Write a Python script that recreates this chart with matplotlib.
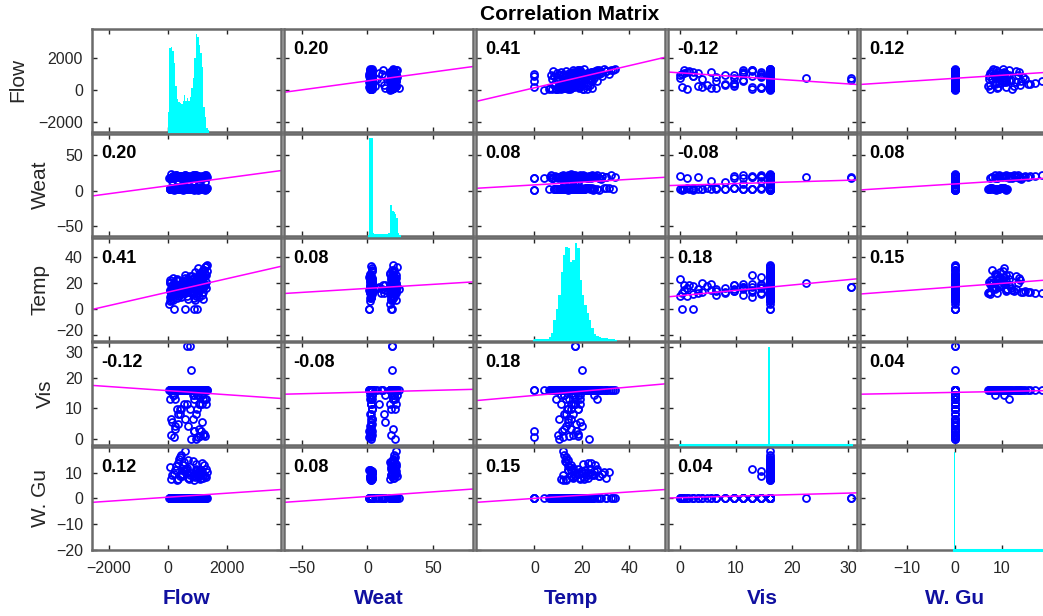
import numpy as np
import matplotlib.pyplot as plt
from matplotlib.transforms import ScaledTranslation

plt.rcParams['font.family'] = ['Liberation Sans', 'DejaVu Sans']

# variable names (rows / columns of the matrix)
names = ['Flow', 'Weat', 'Temp', 'Vis', 'W. Gu']

flow = [
    60, 110, 150, 90, 200, 250, 130, 70, 180, 280,
    900, 960, 1010, 1080, 1150, 1220, 1300, 980, 1040, 870,
    350, 420, 480, 550, 620, 700, 760, 300, 650, 520,
    880, 940, 1000, 1060, 1120, 1180, 1250, 1320, 990, 1100,
    950, 1020, 1100, 1180, 1240, 900, 1060, 230, 330, 1150,
    120, 400, 750, 1050, 1250, 200, 600, 950, 300, 1150,
    80, 160, 240, 1000, 1280, 700, 850, 1130, 450, 560,
    50, 100, 140, 190, 240, 290, 80, 170, 220, 120,
    860, 930, 1000, 1070, 1140, 1210, 1280, 1340, 960, 1110,
    150, 380, 450, 500, 620, 780, 900, 1050, 1200, 280,
    100, 230, 650, 720, 960, 1010, 1160, 1290, 850, 560,
    400, 600, 700, 800, 650, 760, 820, 1050, 350, 900,
    200, 580, 900, 1000, 300, 700, 1100, 500, 1250, 150,
    320, 380, 460, 540, 610, 680, 740, 800, 430, 520,
    110, 260, 420, 640, 880, 1030, 1190, 1300, 170, 990,
    60, 180, 310, 440, 570, 690, 820, 940, 1070, 1200,
    130, 260, 390, 530, 660, 790, 910, 1030, 1170, 1310,
    70, 200, 330, 470, 590, 730, 840, 970, 1090, 1230,
]
weat = [
    2.1, 3.0, 2.6, 3.4, 2.2, 3.8, 2.9, 3.1, 2.5, 3.6,
    2.4, 3.2, 2.8, 3.5, 2.0, 3.9, 2.7, 3.3, 1.5, 2.9,
    2.3, 3.1, 2.7, 3.6, 2.0, 3.4, 2.9, 2.5, 3.8, 1.2,
    3.0, 2.2, 3.7, 2.6, 3.3, 2.8, 1.8, 3.5, 2.4, 3.9,
    2.5, 3.1, 2.8, 3.6, 2.2, 3.3, 2.9, 2.0, 3.4, 2.7,
    3.0, 2.4, 3.5, 2.7, 3.2, 2.1, 3.7, 2.9, 3.3, 2.6,
    2.8, 3.3, 2.2, 3.6, 2.5, 3.0, 3.9, 2.3, 3.4, 2.9,
    17.5, 18.2, 19.0, 20.5, 21.3, 22.1, 18.6, 19.8, 17.9, 24.0,
    18.0, 19.2, 20.1, 21.0, 17.6, 18.8, 22.4, 19.5, 20.8, 17.2,
    18.3, 19.6, 20.4, 21.2, 17.8, 19.0, 22.0, 18.5, 20.0, 21.6,
    17.4, 18.9, 20.7, 19.3, 21.8, 18.1, 20.3, 19.7, 22.6, 17.0,
    21.0, 21.5, 20.2, 19.0, 18.5, 18.8, 19.2, 11.0, 12.5, 13.5,
    1.0, 18.0, 1.2, 18.5, 6.0, 7.5, 9.0, 10.5, 12.0, 13.5,
    2.6, 19.4, 3.2, 20.6, 2.1, 18.2, 3.7, 21.4, 2.9, 17.7,
    18.4, 19.9, 21.1, 17.3, 20.9, 18.7, 19.6, 22.2, 20.2, 18.0,
    3.1, 19.1, 2.4, 20.3, 3.5, 17.8, 2.2, 21.7, 3.0, 18.6,
    19.5, 2.8, 21.4, 3.3, 18.9, 2.6, 20.6, 3.7, 17.9, 2.1,
    18.2, 20.9, 19.4, 3.2, 21.5, 2.7, 18.7, 20.1, 3.4, 19.8,
]
temp = [
    6.3, 9.1, 12.4, 14.2, 16.5, 18.3, 11.2, 20.4, 15.1, 22.2,
    8.2, 14.6, 18.1, 22.3, 26.4, 30.1, 33.0, 17.2, 24.5, 12.3,
    13.1, 15.4, 17.2, 19.5, 21.3, 16.1, 25.2, 12.2, 23.4, 14.3,
    13.4, 16.2, 18.6, 20.1, 22.4, 24.2, 27.1, 29.3, 15.5, 19.2,
    10.2, 12.1, 14.4, 16.3, 18.2, 11.5, 15.2, 13.3, 17.4, 19.1,
    10.4, 13.2, 15.6, 17.1, 19.4, 12.6, 14.1, 16.4, 18.5, 11.1,
    9.3, 12.5, 14.7, 16.2, 18.4, 20.2, 15.3, 17.5, 13.6, 19.3,
    4.1, 7.2, 10.3, 13.2, 16.1, 19.2, 22.1, 24.3, 12.1, 15.4,
    14.2, 18.3, 21.1, 24.2, 27.3, 30.2, 32.1, 34.0, 16.2, 28.1,
    12.2, 13.1, 12.5, 15.3, 18.2, 21.4, 24.1, 27.2, 30.3, 14.1,
    11.3, 14.2, 16.3, 19.1, 20.3, 22.4, 25.1, 26.2, 17.1, 13.2,
    13.3, 12.1, 14.2, 20.1, 17.3, 17.0, 16.2, 15.1, 12.3, 18.4,
    0, 0, 0, 0, 15.2, 16.3, 17.1, 12.4, 18.2, 14.3,
    8.1, 10.2, 13.3, 15.2, 17.1, 19.3, 21.2, 23.1, 11.4, 16.3,
    10.1, 12.3, 14.1, 15.4, 17.2, 19.1, 13.4, 16.1, 11.2, 18.3,
    20.5, 6.5, 23.5, 8.8, 24.1, 7.4, 25.3, 6.9, 9.5, 7.8,
    18.8, 16.7, 11.6, 21.8, 9.7, 13.9, 28.6, 31.4, 23.8, 20.9,
    14.8, 18.9, 22.6, 16.9, 26.2, 20.7, 12.9, 23.3, 17.7, 25.6,
]
vis = [
    16.1, 16.1, 16.1, 16.1, 16.1, 16.1, 16.1, 16.1, 16.1, 16.1,
    16.1, 16.1, 16.1, 16.1, 16.1, 16.1, 16.1, 16.1, 16.1, 16.1,
    16.1, 16.1, 16.1, 16.1, 16.1, 16.1, 16.1, 16.1, 16.1, 16.1,
    16.1, 16.1, 16.1, 16.1, 16.1, 16.1, 16.1, 16.1, 16.1, 16.1,
    0.0, 0.4, 0.8, 1.2, 1.6, 2.4, 3.2, 4.0, 4.8, 5.6,
    6.4, 8.0, 9.7, 11.3, 12.9, 14.5, 6.4, 8.0, 9.7, 11.3,
    12.9, 14.5, 12.9, 14.5, 0.8, 4.0, 6.4, 2.4, 9.7, 11.3,
    16.1, 16.1, 16.1, 16.1, 16.1, 16.1, 16.1, 16.1, 16.1, 16.1,
    16.1, 16.1, 16.1, 16.1, 16.1, 16.1, 16.1, 16.1, 16.1, 16.1,
    16.1, 16.1, 16.1, 16.1, 16.1, 16.1, 16.1, 16.1, 16.1, 16.1,
    16.1, 16.1, 16.1, 16.1, 16.1, 16.1, 14.5, 12.9, 14.5, 16.1,
    16.1, 16.1, 16.1, 22.5, 30.6, 30.6, 16.1, 16.1, 8.0, 14.5,
    0.4, 16.1, 2.4, 16.1, 16.1, 16.1, 11.3, 16.1, 16.1, 5.6,
    16.1, 16.1, 16.1, 16.1, 16.1, 16.1, 16.1, 0.0, 16.1, 16.1,
    1.2, 3.2, 9.7, 11.3, 12.9, 14.5, 12.9, 11.3, 14.5, 9.7,
    16.1, 16.1, 16.1, 16.1, 16.1, 16.1, 16.1, 16.1, 16.1, 16.1,
    16.1, 16.1, 16.1, 16.1, 16.1, 16.1, 16.1, 16.1, 16.1, 16.1,
    16.1, 16.1, 16.1, 16.1, 16.1, 16.1, 16.1, 16.1, 16.1, 16.1,
]
wgu = [
    0, 0, 0, 0, 0, 0, 0, 0, 0, 0,
    0, 0, 0, 0, 0, 0, 0, 0, 0, 0,
    7.5, 8.5, 9.5, 10.5, 11.0, 8.0, 9.0, 7.0, 10.0, 11.0,
    7.2, 8.4, 9.8, 10.6, 7.8, 9.2, 8.8, 10.2, 11.2, 7.5,
    0, 0, 0, 0, 0, 0, 0, 0, 0, 0,
    0, 0, 0, 0, 0, 0, 0, 0, 0, 0,
    0, 0, 0, 0, 0, 0, 0, 0, 0, 0,
    0, 0, 0, 0, 0, 0, 0, 0, 0, 0,
    0, 0, 0, 0, 0, 0, 0, 0, 0, 0,
    9.0, 15.5, 17.0, 13.0, 11.5, 10.0, 9.5, 8.5, 8.0, 12.5,
    7.5, 11.0, 12.0, 8.0, 13.5, 9.0, 10.5, 11.5, 8.5, 14.0,
    16.0, 18.5, 15.0, 0, 0, 0, 0, 0, 0, 0,
    0, 0, 0, 0, 0, 0, 0, 0, 0, 0,
    0, 0, 0, 0, 0, 0, 0, 0, 0, 0,
    0, 0, 0, 0, 0, 0, 0, 0, 0, 0,
    0, 0, 0, 0, 0, 0, 0, 0, 0, 0,
    0, 0, 0, 0, 0, 0, 9.6, 10.4, 13.6, 8.2,
    12.2, 9.3, 13.8, 8.6, 10.8, 7.4, 14.6, 11.6, 9.9, 13.1,
]

# correlation coefficients printed in the panels
corr = [
    [None, 0.20, 0.41, -0.12, 0.12],
    [0.20, None, 0.08, -0.08, 0.08],
    [0.41, 0.08, None, 0.18, 0.15],
    [-0.12, -0.08, 0.18, None, 0.04],
    [0.12, 0.08, 0.15, 0.04, None],
]
# least-squares line: y value at the left and right x limit
line_left = [
    [None, -120, -695, 1150, 370],
    [-7.3, None, 3.5, 7.3, 1.2],
    [-0.5, 11.9, None, 9.3, 11.5],
    [17.5, 14.6, 12.5, None, 14.6],
    [-1.6, -1.6, -1.6, 0.1, None],
]
line_right = [
    [None, 1495, 2074, 370, 1140],
    [28.4, None, 19.0, 15.2, 18.0],
    [33.0, 20.9, None, 23.3, 22.5],
    [13.2, 16.2, 18.0, None, 15.8],
    [3.4, 3.6, 3.4, 2.1, None],
]

# histograms on the diagonal: first bin edge, bin width, counts
hist_start = [0, 0, 0, 15.75, -0.2]
hist_width = [50, 1, 1, 0.4, 0.4]
flow_hist = [20, 85, 86, 82, 70, 46, 33, 30, 29, 28, 31, 37, 31, 34, 31, 35,
             44, 55, 75, 100, 97, 88, 80, 66, 25, 15, 4]
weat_hist = [0, 97, 97, 97, 3, 2, 2, 2, 2, 2, 2, 2, 2, 2, 2, 2, 3, 31, 31, 25,
             24, 22, 18, 3]
temp_hist = [1, 1, 1, 1, 1, 1, 3, 7, 20, 31, 45, 68, 85, 93, 92, 78, 80, 97,
             92, 60, 45, 35, 27, 20, 12, 6, 4, 3, 2, 2, 2, 1, 1, 1]
vis_hist = [100]
wgu_hist = [100]
hist_counts = [flow_hist, weat_hist, temp_hist, vis_hist, wgu_hist]

limits = [(-2580, 3850), (-63.5, 80.5), (-24.6, 55), (-2.1, 31.6), (-20, 20)]
xticks = [[-2000, 0, 2000], [-50, 0, 50], [0, 20, 40], [0, 10, 20, 30], [-10, 0, 10]]
yticks = [[-2000, 0, 2000], [-50, 0, 50], [-20, 0, 20, 40], [0, 10, 20, 30],
          [-20, -10, 0, 10]]

data = [flow, weat, temp, vis, wgu]

W, H = 1043, 616
fig = plt.figure(figsize=(W / 100, H / 100), dpi=100)

gray = '#262626'
ylabel_px = [18, 40, 40, 45, 40]

for i in range(5):
    for j in range(5):
        left = 92 + 192 * j
        top = 29 + 104.5 * i
        ax = fig.add_axes([left / W, 1 - (top + 102.5) / H, 189 / W, 102.5 / H])
        ax.set_xlim(limits[j])
        ax.set_ylim(limits[i])
        ax.set_xticks(xticks[j])
        ax.set_yticks(yticks[i])
        ax.tick_params(direction='in', length=3.5, width=1, colors=gray,
                       top=True, right=True, labelsize=11.5,
                       labelleft=(j == 0), labelbottom=(i == 4))
        ax.tick_params(axis='x', pad=8.5)
        ax.tick_params(axis='y', pad=6.5)
        for sp in ax.spines.values():
            sp.set_color('#6a6a6a')
            sp.set_linewidth(1.8)

        if i == j:
            # histogram on its own hidden scale
            hax = ax.inset_axes([0, 0, 1, 1])
            hax.set_xlim(limits[j])
            counts = hist_counts[i]
            edges = [hist_start[i] + k * hist_width[i] for k in range(len(counts))]
            hax.set_ylim(0, max(counts) / 0.955)
            hax.bar(edges, counts, width=hist_width[i], align='edge',
                    color='#00ffff', edgecolor='none')
            hax.plot([min(data[i]), max(data[i])], [0, 0], color='#00ffff',
                     lw=2.2, clip_on=False)
            hax.axis('off')
        else:
            ax.plot(data[j], data[i], 'o', ms=5, mfc='none', mec='#0000ff',
                    mew=1.3)
            ax.plot(limits[j], [line_left[i][j], line_right[i][j]],
                    color='#ff00ff', lw=1.1)
            ax.text(0.05, 0.80, '%.2f' % corr[i][j], transform=ax.transAxes,
                    ha='left', va='center', fontsize=13, fontweight='bold',
                    color='black')

        if j == 0:
            ax.set_ylabel(names[i], fontsize=15, color=gray)
            ax.yaxis.set_label_coords((ylabel_px[i] - 92) / 189, 0.5)
            ax.yaxis.label.set_va('center')
            # the lowest Temp label and the top Vis label sit close together
            ticks = ax.yaxis.get_major_ticks()
            if i == 2:
                lab = ticks[0].label1
                lab.set_transform(lab.get_transform() +
                                  ScaledTranslation(0, 3.5 / 72, fig.dpi_scale_trans))
            if i == 3:
                lab = ticks[-1].label1
                lab.set_transform(lab.get_transform() +
                                  ScaledTranslation(0, -3.5 / 72, fig.dpi_scale_trans))
        if i == 4:
            ax.set_xlabel(names[j], fontsize=15, fontweight='bold', color='#1010a0')
            ax.xaxis.set_label_coords(0.5, -0.478)
            ax.xaxis.label.set_va('center')

fig.text(570 / W, 1 - 14.6 / H, 'Correlation Matrix', ha='center', va='center',
         fontsize=15, fontweight='bold', color='black')

fig.savefig('out.png', dpi=100)
